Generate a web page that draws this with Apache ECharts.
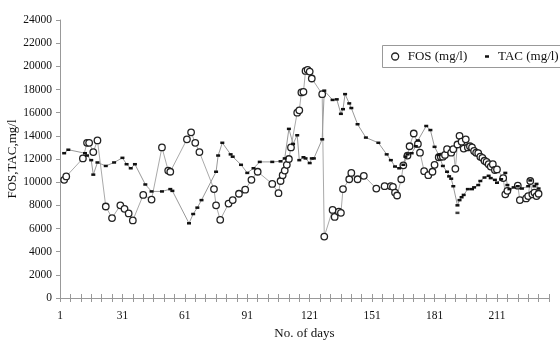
<!DOCTYPE html>
<html>
<head>
<meta charset="utf-8">
<script src="https://cdn.jsdelivr.net/npm/echarts@6/dist/echarts.min.js"></script>
<style>
  html, body { margin: 0; padding: 0; background: #fff; }
  #chart { width: 560px; height: 340px; }
</style>
</head>
<body>
<div id="chart"></div>
<script>
// days and values
var fosDays = [3, 4, 12, 14, 15, 17, 19, 23, 26, 30,
  32, 34, 36, 41, 45, 50, 53, 54, 62, 64,
  66, 68, 75, 76, 78, 82, 84, 87, 90, 93,
  96, 103, 106, 107, 108, 109, 110, 111, 112, 115,
  116, 117, 118, 119, 120, 121, 122, 127, 128, 132,
  133, 135, 136, 137, 140, 141, 144, 147, 153, 157,
  160, 161, 162, 163, 165, 166, 168, 169, 171, 173,
  174, 176, 178, 180, 181, 183, 184, 185, 186, 187,
  189, 190, 191, 192, 193, 194, 195, 196, 197, 198,
  199, 200, 201, 202, 203, 204, 205, 206, 207, 208,
  209, 210, 211, 214, 215, 216, 221, 222, 225, 226,
  227, 228, 229, 230, 231];
var fosVals = [10200, 10500, 12050, 13400, 13400, 12600, 13600, 7900, 6900, 8000,
  7700, 7300, 6700, 8900, 8500, 13000, 11000, 10900, 13700, 14300,
  13400, 12600, 9400, 8000, 6750, 8150, 8450, 9000, 9350, 10200,
  10900, 9850, 9050, 10100, 10600, 11000, 11500, 12000, 13000, 16000,
  16200, 17750, 17800, 19600, 19700, 19550, 18950, 17600, 5300, 7600,
  7000, 7450, 7350, 9400, 10250, 10800, 10250, 10550, 9450, 9650,
  9650, 9600, 9100, 8850, 10250, 11450, 12300, 13100, 14200, 13300,
  12550, 10950, 10600, 10900, 11500, 12150, 12200, 12200, 12350, 12850,
  12550, 12850, 11150, 13250, 14000, 13500, 12900, 13700, 13000, 13100,
  13000, 12700, 12550, 12500, 12200, 12100, 11850, 11750, 11550, 11350,
  11550, 11050, 11100, 10350, 8950, 9250, 9700, 8450, 8600, 8800,
  10100, 8950, 9100, 8800, 9000];

var tacDays = [3, 5, 13, 14, 16, 17, 19, 23, 27, 31,
  33, 35, 37, 42, 45, 50, 54, 55, 63, 65,
  67, 69, 76, 77, 79, 83, 84, 88, 91, 94,
  97, 103, 107, 109, 111, 113, 115, 116, 118, 119,
  121, 122, 123, 127, 128, 132, 134, 136, 137, 138,
  140, 141, 144, 148, 154, 158, 160, 162, 164, 166,
  167, 168, 170, 172, 173, 177, 179, 181, 183, 185,
  187, 188, 189, 190, 192, 193, 194, 195, 197, 199,
  200, 202, 203, 205, 207, 208, 210, 211, 213, 215,
  216, 217, 219, 221, 223, 226, 227, 229, 230, 231];
var tacVals = [12500, 12800, 12500, 12300, 11900, 10650, 11700, 11400, 11700, 12100,
  11550, 11200, 11550, 9800, 9200, 9200, 9400, 9250, 6450, 7250,
  7800, 8450, 10900, 12300, 13400, 12400, 12200, 11500, 10800, 11200,
  11750, 11750, 11800, 12050, 14600, 13300, 14050, 11900, 12150, 12050,
  11650, 12050, 12050, 13700, 17900, 17100, 17150, 15900, 16300, 17600,
  16800, 16400, 15000, 13850, 13400, 12400, 11900, 11350, 11200, 11500,
  12200, 12400, 12500, 13100, 13600, 14850, 14500, 13050, 12350, 11400,
  10900, 10500, 10300, 9650, 8000, 8450, 8700, 8900, 9400, 9400,
  9550, 9750, 10100, 10400, 10550, 10350, 10200, 9950, 10250, 10800,
  9750, 9400, 9550, 9650, 9450, 9650, 10150, 9650, 9850, 9450];
// lone TAC dash under the dip
var tacLoneDays = [192];
var tacLoneVals = [7350];

var xLabelDays = [1, 31, 61, 91, 121, 151, 181, 211];

function pairs(xs, ys) {
  var out = [];
  for (var i = 0; i < xs.length; i++) out.push([xs[i], ys[i]]);
  return out;
}

var serif = 'Liberation Serif';
var chart = echarts.init(document.getElementById('chart'));

var xBase = {
  type: 'value', min: 1, max: 236, interval: 5,
  splitLine: { show: false }
};

var ringStyle = { color: '#fff', borderColor: '#222', borderWidth: 1.3 };

chart.setOption({
  animation: false,
  backgroundColor: '#fff',
  grid: { left: 60, right: 11, top: 20, bottom: 42, outerBoundsMode: 'none', containLabel: false },
  graphic: [{
    type: 'rect', left: 380, top: 43,
    shape: { width: 195, height: 22 },
    style: { fill: 'none', stroke: '#999', lineWidth: 1 }
  }],
  legend: [{
    data: ['FOS (mg/l)'], left: 391, top: 50, padding: 0,
    icon: 'circle', itemWidth: 7, itemHeight: 7,
    itemStyle: ringStyle,
    textStyle: { fontFamily: serif, fontSize: 13, color: '#111', padding: [0, 0, 0, 4] }
  }, {
    data: ['TAC (mg/l)'], left: 485, top: 50, padding: 0,
    icon: 'rect', itemWidth: 4, itemHeight: 2.5,
    textStyle: { fontFamily: serif, fontSize: 13, color: '#111', padding: [0, 0, 0, 4] }
  }],
  xAxis: [Object.assign({}, xBase, {
    name: 'No. of days', nameLocation: 'middle', nameGap: 29,
    nameMoveOverlap: false,
    nameTextStyle: { fontFamily: serif, fontSize: 13, color: '#111' },
    axisLine: { onZero: false, lineStyle: { color: '#999' } },
    axisTick: { length: 4, lineStyle: { color: '#999' } },
    axisLabel: {
      fontFamily: serif, fontSize: 11.5, color: '#111', margin: 12,
      formatter: function(v) { return xLabelDays.indexOf(v) >= 0 ? String(v) : ''; }
    }
  }), Object.assign({}, xBase, {
    position: 'bottom',
    axisLine: { show: false, onZero: false },
    axisTick: { inside: true, length: 4, lineStyle: { color: '#999' } },
    axisLabel: { show: false }
  })],
  yAxis: {
    type: 'value', min: 0, max: 24000, interval: 2000,
    name: 'FOS,TAC,mg/l', nameLocation: 'middle', nameGap: 41,
    nameMoveOverlap: false,
    nameTextStyle: { fontFamily: serif, fontSize: 13, color: '#111' },
    axisLine: { show: true, lineStyle: { color: '#999' } },
    axisTick: { show: true, length: 4, lineStyle: { color: '#999' } },
    axisLabel: {
      fontFamily: serif, fontSize: 11.5, color: '#111', margin: 8,
      formatter: function(v) { return String(v); }
    },
    splitLine: { show: false }
  },
  series: [{
    name: 'FOS (mg/l)', type: 'line',
    data: pairs(fosDays, fosVals),
    symbol: 'circle', symbolSize: 6.5, showAllSymbol: true,
    lineStyle: { color: '#aaa', width: 1 },
    itemStyle: ringStyle,
    emphasis: { disabled: true }
  }, {
    name: 'TAC (mg/l)', type: 'line',
    data: pairs(tacDays, tacVals),
    symbol: 'rect', symbolSize: [4, 2.5], showAllSymbol: true,
    lineStyle: { color: '#999', width: 1 },
    itemStyle: { color: '#111' },
    emphasis: { disabled: true }
  }, {
    name: 'TAC (mg/l)', type: 'scatter',
    data: pairs(tacLoneDays, tacLoneVals),
    symbol: 'rect', symbolSize: [4, 2.5],
    itemStyle: { color: '#111' },
    emphasis: { disabled: true }
  }]
});
</script>
</body>
</html>
